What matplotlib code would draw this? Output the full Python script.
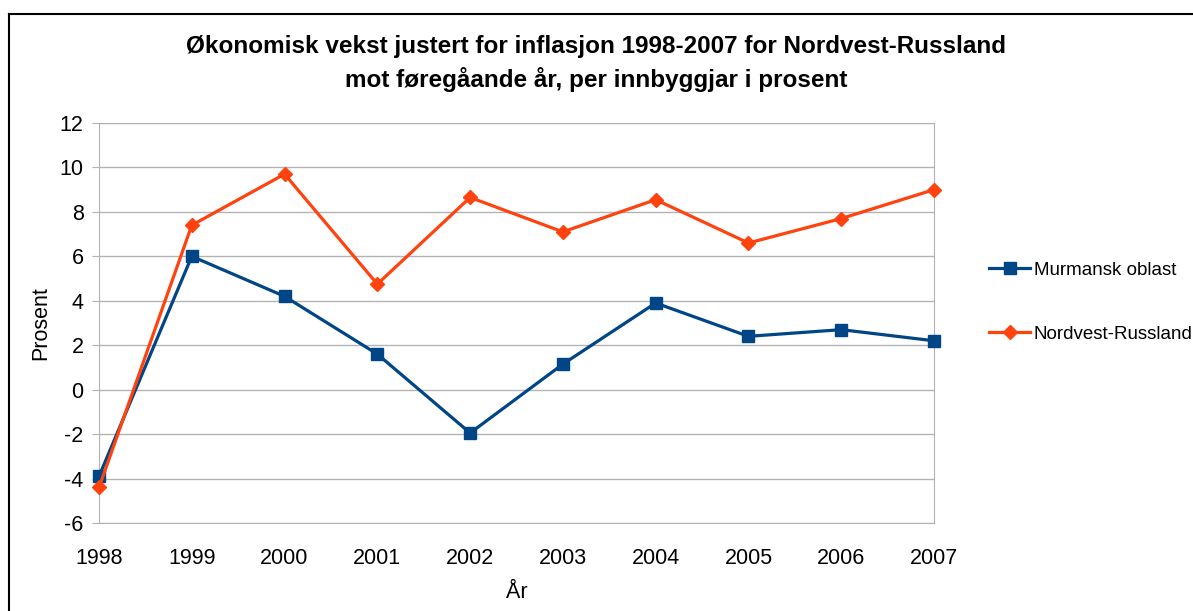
import matplotlib
matplotlib.use("Agg")
import matplotlib.pyplot as plt
from matplotlib.lines import Line2D

plt.rcParams['font.family'] = ['Liberation Sans', 'DejaVu Sans']
plt.rcParams['axes.unicode_minus'] = False

# Data
years = [1998, 1999, 2000, 2001, 2002, 2003, 2004, 2005, 2006, 2007]
murmansk = [-3.9, 6.0, 4.2, 1.6, -1.95, 1.15, 3.9, 2.4, 2.7, 2.2]
nordvest = [-4.4, 7.4, 9.7, 4.75, 8.65, 7.1, 8.55, 6.6, 7.7, 9.0]
yticks = list(range(-6, 13, 2))

title = ("Økonomisk vekst justert for inflasjon 1998-2007 for Nordvest-Russland\n"
         "mot føregåande år, per innbyggjar i prosent")

fig = plt.figure(figsize=(11.93, 6.11), dpi=100)
ax = fig.add_axes([99 / 1193, 88 / 611, 835 / 1193, 400 / 611])

# Series
ax.plot(years, murmansk, color="#004586", lw=2.3, marker="s", ms=8,
        label="Murmansk oblast", clip_on=False, zorder=3)
ax.plot(years, nordvest, color="#ff420e", lw=2.3, marker="D", ms=7,
        label="Nordvest-Russland", clip_on=False, zorder=3)

# Axes
ax.set_xlim(1998, 2007)
ax.set_ylim(-6, 12)
ax.set_xticks(years)
ax.set_yticks(yticks)
ax.tick_params(axis="x", length=0, pad=18, labelsize=15.5)
ax.tick_params(axis="y", length=5, color="#b3b3b3", labelsize=15.5, pad=6)
ax.grid(axis="y", color="#b3b3b3", lw=1)
ax.set_axisbelow(True)
for s in ax.spines.values():
    s.set_color("#b3b3b3")
ax.set_xlabel("År", fontsize=15.5, labelpad=9)
ax.set_ylabel("Prosent", fontsize=15.5, labelpad=6)

fig.suptitle(title, fontsize=17.5, fontweight="bold", y=0.943, linespacing=1.45)

# Legend
handles = [Line2D([], [], color="#004586", lw=2.3, marker="s", ms=8),
           Line2D([], [], color="#ff420e", lw=2.3, marker="D", ms=7)]
fig.legend(handles, ["Murmansk oblast", "Nordvest-Russland"],
           loc="center left", bbox_to_anchor=(972 / 1193, 0.505),
           frameon=False, fontsize=13.5, handlelength=2.2, handletextpad=0.2,
           labelspacing=2.5)

# Outer frame (top and left)
fig.add_artist(Line2D([9 / 1193, 1], [1 - 14 / 611, 1 - 14 / 611],
                      color="black", lw=1.5, transform=fig.transFigure))
fig.add_artist(Line2D([9 / 1193, 9 / 1193], [0, 1 - 14 / 611],
                      color="black", lw=1.5, transform=fig.transFigure))

fig.savefig("out.png", dpi=100)
